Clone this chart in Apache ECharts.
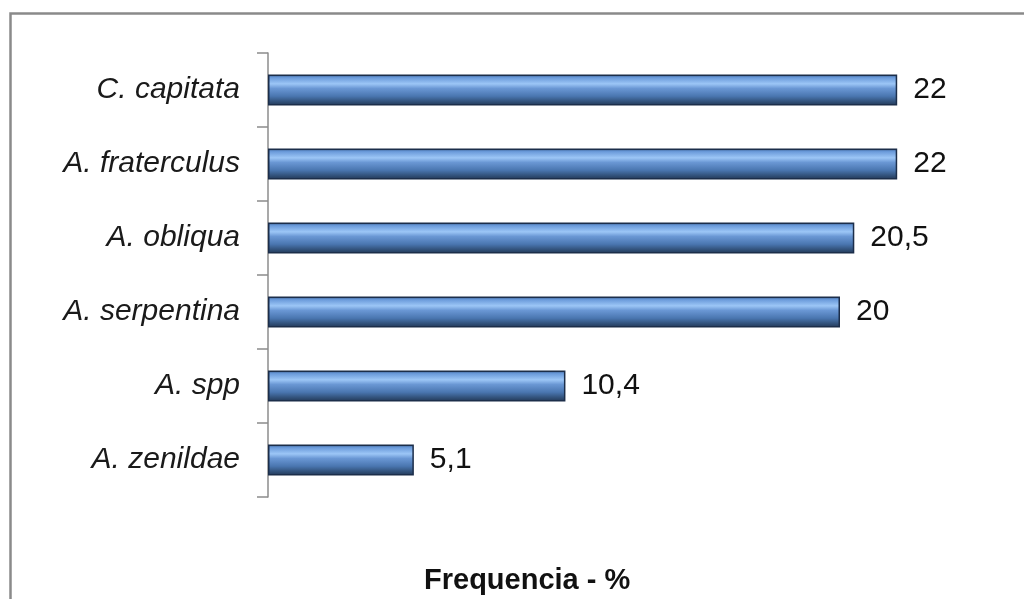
<!DOCTYPE html>
<html>
<head>
<meta charset="utf-8">
<script src="https://cdn.jsdelivr.net/npm/echarts@6/dist/echarts.min.js"></script>
<style>
html,body{margin:0;padding:0;background:#fff;}
#chart{width:1024px;height:599px;}
</style>
</head>
<body>
<div id="chart"></div>
<script>
const categories = ['C. capitata', 'A. fraterculus', 'A. obliqua', 'A. serpentina', 'A. spp', 'A. zenildae'];
const frequencies = [22, 22, 20.5, 20, 10.4, 5.1];
const axisTitle = 'Frequencia - %';

const chart = echarts.init(document.getElementById('chart'));
chart.setOption({
  backgroundColor: '#ffffff',
  animation: false,
  graphic: [{
    type: 'polyline',
    shape: { points: [[10.5, 599], [10.5, 13.5], [1024, 13.5]] },
    style: { stroke: '#8a8a8a', lineWidth: 2.5, fill: null }
  }],
  title: {
    text: axisTitle,
    left: 424,
    top: 566,
    padding: 0,
    textStyle: {
      fontFamily: 'Liberation Sans, Arial, sans-serif',
      fontSize: 29,
      fontWeight: 'bold',
      color: '#111'
    }
  },
  grid: { left: 268, right: 41, top: 53, bottom: 102, containLabel: false },
  xAxis: {
    type: 'value',
    min: 0,
    max: 25,
    axisLine: { show: false },
    axisTick: { show: false },
    axisLabel: { show: false },
    splitLine: { show: false }
  },
  yAxis: {
    type: 'category',
    data: categories,
    inverse: true,
    axisLine: { show: true, lineStyle: { color: '#8c8c8c', width: 1.5 } },
    axisTick: { show: true, length: 11, lineStyle: { color: '#8c8c8c', width: 1.5 } },
    axisLabel: {
      margin: 28,
      fontFamily: 'Liberation Sans, Arial, sans-serif',
      fontStyle: 'italic',
      fontSize: 30,
      color: '#1a1a1a'
    }
  },
  series: [{
    type: 'bar',
    data: frequencies,
    barWidth: 31,
    itemStyle: {
      color: new echarts.graphic.LinearGradient(0, 0, 0, 1, [
        { offset: 0, color: '#35598a' },
        { offset: 0.1, color: '#6a9ada' },
        { offset: 0.3, color: '#9cc6f6' },
        { offset: 0.45, color: '#6a97d4' },
        { offset: 0.7, color: '#4a76b0' },
        { offset: 0.88, color: '#315078' },
        { offset: 1, color: '#223756' }
      ]),
      borderColor: '#1c2e4a',
      borderWidth: 1.5
    },
    label: {
      show: true,
      position: 'right',
      distance: 16,
      fontFamily: 'Liberation Sans, Arial, sans-serif',
      fontSize: 30,
      color: '#111',
      formatter: p => String(p.value).replace('.', ',')
    }
  }]
});
</script>
</body>
</html>
